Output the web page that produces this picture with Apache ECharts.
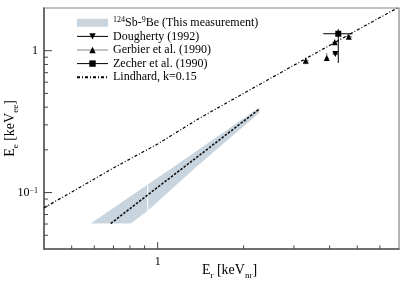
<!DOCTYPE html>
<html><head><meta charset="utf-8">
<script src="https://cdn.jsdelivr.net/npm/echarts@6/dist/echarts.min.js"></script>
<style>html,body{margin:0;padding:0;background:#fff}#c{width:407px;height:283px}</style>
</head><body><div id="c"></div>
<script>
// ---- data ----
const xRange = [0.4, 7];
const yRange = [0.04, 2];
const xMajorTicks = [1];
const xMinorTicks = [0.5, 0.6, 0.7, 0.8, 0.9, 2, 3, 4, 5, 6];
const yMajorTicks = [0.1, 1];
const yMinorTicks = [0.05, 0.06, 0.07, 0.08, 0.09, 0.2, 0.3, 0.4, 0.5, 0.6, 0.7, 0.8, 0.9];
// band (124Sb-9Be measurement) edges
const bandUpper = [[0.583, 0.0605], [0.923, 0.114], [1.156, 0.155], [2.27, 0.397]];
const bandLower = [[0.805, 0.0605], [0.923, 0.0745], [1.358, 0.150], [2.27, 0.365]];
const bandGap = [[0.923, 0.0745, 0.114]];
const centerLine = [[0.685, 0.0605], [1.0, 0.109], [1.41, 0.185], [2.26, 0.385]];
const lindhard = [[0.4, 0.078], [0.7, 0.149], [1.0, 0.22], [1.41, 0.337], [2, 0.50], [3, 0.79], [4, 1.09], [5, 1.40], [7, 2.03]];
// [Er, Ee, ErLow, ErHigh, EeLow, EeHigh]
const dougherty = [[4.19, 0.948, 4.10, 4.28, 0.93, 0.97]];
const gerbier = [
  [3.30, 0.850, 3.22, 3.38, 0.80, 0.90],
  [3.91, 0.888, 3.85, 3.97, 0.841, 0.963],
  [4.17, 1.148, 4.08, 4.26, 1.10, 1.20],
  [4.67, 1.255, 4.55, 4.80, 1.21, 1.30]
];
const zecher = [[4.29, 1.317, 3.80, 4.81, 0.82, 1.42]];

const bandName = '124Sb-9Be (This measurement)';
const FONT = 'Liberation Serif';

const chart = echarts.init(document.getElementById('c'), null, {renderer: 'canvas'});

function errSeries(name, data, color) {
  return {
    type: 'custom', name: name + ' err', silent: true, z: 3,
    data: data,
    renderItem: function (params, api) {
      const c = api.coord([api.value(0), api.value(1)]);
      const xl = api.coord([api.value(2), api.value(1)]);
      const xh = api.coord([api.value(3), api.value(1)]);
      const yl = api.coord([api.value(0), api.value(4)]);
      const yh = api.coord([api.value(0), api.value(5)]);
      return {type: 'group', children: [
        {type: 'line', shape: {x1: xl[0], y1: c[1], x2: xh[0], y2: c[1]}, style: {stroke: color, lineWidth: 1}},
        {type: 'line', shape: {x1: c[0], y1: yl[1], x2: c[0], y2: yh[1]}, style: {stroke: color, lineWidth: 1}}
      ]};
    }
  };
}
function pointSeries(name, data, symbol, rot, size) {
  return {
    type: 'line', name: name, z: 4,
    data: data.map(d => [d[0], d[1]]),
    symbol: symbol, symbolRotate: rot, symbolSize: size, showSymbol: true, showAllSymbol: true,
    itemStyle: {color: '#000'},
    lineStyle: {width: 0, opacity: 0},
    emphasis: {disabled: true}
  };
}
function tickSeries(data, isX) {
  return {
    type: 'custom', silent: true, z: 6, clip: false,
    data: data,
    renderItem: function (params, api) {
      const p = api.coord([api.value(0), api.value(1)]);
      const len = api.value(2);
      const shape = isX ? {x1: p[0], y1: p[1], x2: p[0], y2: p[1] - len}
                        : {x1: p[0], y1: p[1], x2: p[0] + len, y2: p[1]};
      return {type: 'line', shape: shape, style: {stroke: '#444', lineWidth: 1}};
    }
  };
}
const xTickData = xMajorTicks.map(v => [v, yRange[0], 7]).concat(xMinorTicks.map(v => [v, yRange[0], 3.5]));
const yTickData = yMajorTicks.map(v => [xRange[0], v, 8]).concat(yMinorTicks.map(v => [xRange[0], v, 4]));

const option = {
  animation: false,
  backgroundColor: '#fff',
  grid: {left: 44, right: 8, top: 8, bottom: 34, show: true, borderColor: '#888', borderWidth: 1.2,
    backgroundColor: 'transparent', outerBoundsMode: 'none', containLabel: false},
  xAxis: {
    type: 'log', min: xRange[0], max: xRange[1], logBase: 10,
    axisLine: {show: true, lineStyle: {color: '#555', width: 1.5}},
    axisTick: {show: false}, splitLine: {show: false}, minorTick: {show: false},
    axisLabel: {
      margin: 7, color: '#000', fontFamily: FONT, fontSize: 12,
      showMinLabel: false, showMaxLabel: false,
      formatter: v => Math.abs(v - 1) < 1e-9 ? '1' : ''
    },
    name: 'E{s|r} [keV{s|nr}]', nameLocation: 'middle', nameGap: 11, nameMoveOverlap: false,
    nameTextStyle: {color: '#000', fontFamily: FONT, fontSize: 14, lineHeight: 20, padding: [0, 0, 0, 16],
      rich: {s: {fontFamily: FONT, fontSize: 9, lineHeight: 20, verticalAlign: 'bottom', color: '#000'}}}
  },
  yAxis: {
    type: 'log', min: yRange[0], max: yRange[1], logBase: 10,
    axisLine: {show: true, lineStyle: {color: '#555', width: 1.5}},
    axisTick: {show: false}, splitLine: {show: false}, minorTick: {show: false},
    axisLabel: {
      margin: 6, color: '#000', fontFamily: FONT, fontSize: 12,
      showMinLabel: false, showMaxLabel: false,
      formatter: v => Math.abs(v - 1) < 1e-9 ? '1' : (Math.abs(v - 0.1) < 1e-9 ? '{b|10}{s|−1}' : ''),
      rich: {b: {fontFamily: FONT, fontSize: 12, color: '#000'}, s: {fontFamily: FONT, fontSize: 8, verticalAlign: 'top', color: '#000'}}
    },
    name: 'E{s|e} [keV{s|ee}]', nameLocation: 'middle', nameGap: 24, nameRotate: 90, nameMoveOverlap: false,
    nameTextStyle: {color: '#000', fontFamily: FONT, fontSize: 14, lineHeight: 20,
      rich: {s: {fontFamily: FONT, fontSize: 9, lineHeight: 20, verticalAlign: 'bottom', color: '#000'}}}
  },
  legend: {
    orient: 'vertical', left: 76, top: 16, padding: 0, itemWidth: 31, itemHeight: 8, itemGap: 0,
    selectedMode: false,
    textStyle: {fontFamily: FONT, fontSize: 12, color: '#000', lineHeight: 13.6,
      rich: {sup: {fontFamily: FONT, fontSize: 8, lineHeight: 13.6, verticalAlign: 'top', color: '#000'}}},
    formatter: n => n === bandName ? '{sup|124}Sb-{sup|9}Be (This measurement)' : n,
    data: [
      {name: bandName, icon: 'rect', itemStyle: {color: '#c9d5de'}},
      {name: 'Dougherty (1992)', lineStyle: {width: 1, color: '#000', type: 'solid', opacity: 1}},
      {name: 'Gerbier et al. (1990)', lineStyle: {width: 1, color: '#888', type: 'solid', opacity: 1}},
      {name: 'Zecher et al. (1990)', lineStyle: {width: 1, color: '#000', type: 'solid', opacity: 1}},
      {name: 'Lindhard, k=0.15', itemStyle: {color: 'rgba(0,0,0,0)', opacity: 0, borderWidth: 0}}
    ]
  },
  series: [
    {
      type: 'custom', name: bandName, z: 1, silent: true,
      itemStyle: {color: '#c9d5de'},
      data: [bandUpper[0]],
      renderItem: function (params, api) {
        const pts = bandUpper.concat(bandLower.slice().reverse()).map(p => api.coord(p));
        return {type: 'polygon', shape: {points: pts}, style: {fill: '#c9d5de', stroke: null}};
      }
    },
    {
      type: 'custom', name: 'gap', z: 2, silent: true,
      data: bandGap,
      renderItem: function (params, api) {
        const a = api.coord([api.value(0), api.value(1)]);
        const b = api.coord([api.value(0), api.value(2)]);
        return {type: 'line', shape: {x1: a[0], y1: a[1], x2: b[0], y2: b[1]}, style: {stroke: '#fff', lineWidth: 1}};
      }
    },
    {
      type: 'line', name: 'center', z: 3, data: centerLine, symbol: 'none',
      lineStyle: {color: '#111', width: 1.6, type: [2.5, 1.5]}, silent: true
    },
    {
      type: 'line', name: 'Lindhard, k=0.15', z: 3, data: lindhard, symbol: 'none',
      itemStyle: {color: '#000'},
      lineStyle: {color: '#000', width: 1.2, type: [3, 2, 1, 2]}, silent: true
    },
    errSeries('Dougherty (1992)', dougherty, '#000'),
    errSeries('Gerbier et al. (1990)', gerbier, '#777'),
    errSeries('Zecher et al. (1990)', zecher, '#000'),
    pointSeries('Dougherty (1992)', dougherty, 'triangle', 180, 6),
    pointSeries('Gerbier et al. (1990)', gerbier, 'triangle', 0, 6),
    pointSeries('Zecher et al. (1990)', zecher, 'rect', 0, 6),
    tickSeries(xTickData, true),
    tickSeries(yTickData, false)
  ]
};
chart.setOption(option);
</script>
</body></html>
